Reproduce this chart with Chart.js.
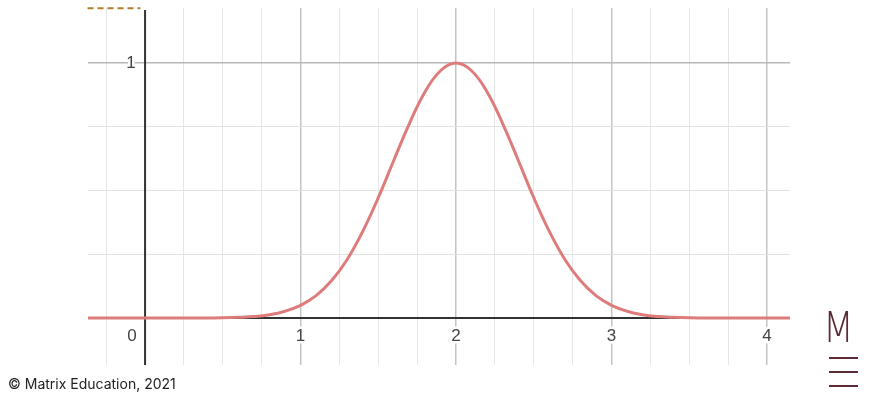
<!DOCTYPE html>
<html>
<head>
<meta charset="utf-8">
<script src="https://cdn.jsdelivr.net/npm/chart.js@4.4.1/dist/chart.umd.min.js"></script>
<style>
    body { margin: 0; background: #fff; }
    #wrap { position: relative; width: 870px; height: 400px; }
    #copy { position: absolute; left: 8px; top: 375px; font: 14px Inter, Roboto, sans-serif; color: #222; }
    #logo { position: absolute; left: 823px; top: 306px; font: 200 42px "DejaVu Sans", sans-serif; color: #5a2a35; line-height: 44px; transform: scaleX(0.85); transform-origin: left top; }
    .bar { position: absolute; left: 829px; width: 29px; height: 2px; background: #5a2a35; }
</style>
</head>
<body>
<div id="wrap">
    <canvas id="grafico" width="870" height="400"></canvas>
    <div id="copy">© Matrix Education, 2021</div>
    <div id="logo">M</div>
    <div class="bar" style="top:357px"></div>
    <div class="bar" style="top:371px"></div>
    <div class="bar" style="top:385px"></div>
</div>
<script>
// curve
let xValues = [-0.4, 0, 0.4, 0.5, 0.6, 0.7, 0.8, 0.9, 1.0, 1.1, 1.2, 1.3, 1.4, 1.5, 1.6, 1.7, 1.8, 1.9, 2.0,
    2.1, 2.2, 2.3, 2.4, 2.5, 2.6, 2.7, 2.8, 2.9, 3.0, 3.1, 3.2, 3.3, 3.4, 3.5, 3.6, 4.0, 4.2]
let yValues = [0, 0, 0, 0.001, 0.003, 0.006, 0.013, 0.027, 0.05, 0.088, 0.147, 0.23, 0.34, 0.472, 0.619, 0.763, 0.887, 0.97, 1.0,
    0.97, 0.887, 0.763, 0.619, 0.472, 0.34, 0.23, 0.147, 0.088, 0.05, 0.027, 0.013, 0.006, 0.003, 0.001, 0, 0, 0]

let xTickLabels = [0, 1, 2, 3, 4]
let yTickLabels = [1]
let xGrid = [-0.25, 0.25, 0.5, 0.75, 1, 1.25, 1.5, 1.75, 2, 2.25, 2.5, 2.75, 3, 3.25, 3.5, 3.75, 4]
let yGrid = [0.25, 0.5, 0.75, 1]

// dashed fragment at top left
let dashX = [-0.37, -0.03]
let dashY = [1.215, 1.215]

const xMin = -0.367, xMax = 4.148, yMin = -0.184, yMax = 1.216

const isMajor = v => Math.abs(v - Math.round(v)) < 1e-6

const axesPlugin = {
    id: 'axesPlugin',
    afterDatasetsDraw(chart) {
        const { ctx, chartArea, scales } = chart
        const x0 = scales.x.getPixelForValue(0)
        const y0 = scales.y.getPixelForValue(0)
        ctx.save()
        ctx.font = '17px "Liberation Sans", Arial, sans-serif'
        ctx.textAlign = 'center'
        ctx.textBaseline = 'middle'
        ctx.lineJoin = 'round'
        xTickLabels.forEach(v => {
            const px = scales.x.getPixelForValue(v) - (v === 0 ? 13 : 0)
            ctx.lineWidth = 5
            ctx.strokeStyle = '#fff'
            ctx.strokeText(String(v), px, y0 + 18)
            ctx.fillStyle = '#444'
            ctx.fillText(String(v), px, y0 + 18)
        })
        yTickLabels.forEach(v => {
            const py = scales.y.getPixelForValue(v)
            ctx.lineWidth = 5
            ctx.strokeStyle = '#fff'
            ctx.strokeText(String(v), x0 - 14, py)
            ctx.fillStyle = '#444'
            ctx.fillText(String(v), x0 - 14, py)
        })
        ctx.restore()
    },
    beforeDatasetsDraw(chart) {
        const { ctx, chartArea, scales } = chart
        const x0 = scales.x.getPixelForValue(0)
        const y0 = scales.y.getPixelForValue(0)
        ctx.save()
        ctx.strokeStyle = '#333'
        ctx.lineWidth = 2
        ctx.beginPath()
        ctx.moveTo(x0, chartArea.top + 2)
        ctx.lineTo(x0, chartArea.bottom)
        ctx.moveTo(chartArea.left, y0)
        ctx.lineTo(chartArea.right, y0)
        ctx.stroke()
        ctx.restore()
    }
}

const canvas = document.getElementById('grafico')

var grafico = new Chart(canvas, {
    type: 'line',
    data: {
        datasets: [
            {
                data: xValues.map((x, i) => ({ x: x, y: yValues[i] })),
                borderColor: 'rgb(222, 124, 124)',
                borderWidth: 3,
                pointRadius: 0,
                tension: 0.4,
                fill: false
            },
            {
                data: dashX.map((x, i) => ({ x: x, y: dashY[i] })),
                borderColor: '#b07d2a',
                borderWidth: 2,
                borderDash: [6, 4],
                pointRadius: 0,
                clip: false
            }
        ]
    },
    options: {
        responsive: false,
        animation: false,
        layout: { padding: { left: 88, right: 80, top: 8, bottom: 35 } },
        plugins: { legend: { display: false }, tooltip: { enabled: false } },
        scales: {
            x: {
                type: 'linear',
                min: xMin,
                max: xMax,
                afterBuildTicks: axis => { axis.ticks = xGrid.map(v => ({ value: v })) },
                ticks: { display: false },
                border: { display: false },
                grid: {
                    drawTicks: false,
                    color: c => isMajor(c.tick.value) ? '#c4c4c4' : '#e6e6e6',
                    lineWidth: c => isMajor(c.tick.value) ? 1.5 : 1
                }
            },
            y: {
                type: 'linear',
                min: yMin,
                max: yMax,
                afterBuildTicks: axis => { axis.ticks = yGrid.map(v => ({ value: v })) },
                ticks: { display: false },
                border: { display: false },
                grid: {
                    drawTicks: false,
                    color: c => isMajor(c.tick.value) ? '#b8b8b8' : '#e2e2e2',
                    lineWidth: c => isMajor(c.tick.value) ? 1.5 : 1
                }
            }
        }
    },
    plugins: [axesPlugin]
})
</script>
</body>
</html>
